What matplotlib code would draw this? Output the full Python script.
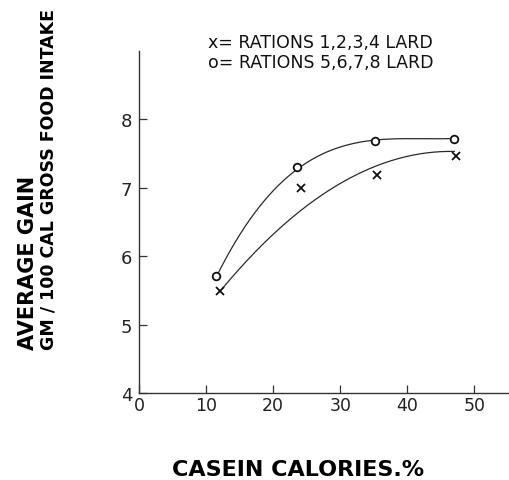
import numpy as np
import matplotlib
matplotlib.use("Agg")
import matplotlib.pyplot as plt

# Observed points
casein_x = [12.0, 24.1, 35.5, 47.2]      # rations 1-4 lard
gain_x = [5.49, 6.99, 7.18, 7.47]
casein_o = [11.5, 23.5, 35.2, 47.0]      # rations 5-8 lard
gain_o = [5.71, 7.31, 7.69, 7.72]

# Hand-drawn smooth curves
curve_o_x = [11.5, 16.6, 23.5, 29.7, 35.2, 41.0, 47.0]
curve_o_y = [5.71, 6.50, 7.31, 7.58, 7.69, 7.715, 7.725]
curve_x_x = [12.4, 19.0, 24.0, 30.0, 35.2, 41.0, 47.0]
curve_x_y = [5.55, 6.20, 6.62, 7.08, 7.36, 7.47, 7.52]

x_ticks = [0, 10, 20, 30, 40, 50]
y_ticks = [4, 5, 6, 7, 8]


def smooth(xs, ys, deg, n=200):
    c = np.polyfit(xs, ys, deg)
    xx = np.linspace(xs[0], xs[-1], n)
    return xx, np.polyval(c, xx)


fig = plt.figure(figsize=(5.09, 4.81), dpi=100)
ax = fig.add_axes([0.2731, 0.1809, 0.725, 0.711])

col = "#2a2a2a"
cx, cy = smooth(curve_o_x, curve_o_y, 3)
ax.plot(cx, cy, color=col, lw=0.9)
cx, cy = smooth(curve_x_x, curve_x_y, 2)
ax.plot(cx, cy, color=col, lw=0.9)

ax.plot(casein_o, gain_o, linestyle="none", marker="o", ms=5.5, mfc="white",
        mec="#111111", mew=1.3)
ax.plot(casein_x, gain_x, linestyle="none", marker="x", ms=5.5, color="#111111", mew=1.3)

ax.set_xlim(0, 55)
ax.set_ylim(4, 9)
ax.set_xticks(x_ticks)
ax.set_yticks(y_ticks)
ax.spines["top"].set_visible(False)
ax.spines["right"].set_visible(False)
for s in ("left", "bottom"):
    ax.spines[s].set_linewidth(1.0)
    ax.spines[s].set_color("#333333")
ax.tick_params(axis="both", direction="in", length=6, width=0.9, color="#333333")
ax.tick_params(axis="x", labelsize=12.5, pad=2)
ax.tick_params(axis="y", labelsize=13, pad=5)
for lab in ax.get_xticklabels() + ax.get_yticklabels():
    lab.set_family("DejaVu Sans")
    lab.set_color("#222222")

fig.text(208 / 509, 1 - 43 / 481, "x= RATIONS 1,2,3,4 LARD", fontsize=12.5,
         family="DejaVu Sans", va="center", ha="left", color="#111111")
fig.text(208 / 509, 1 - 63 / 481, "o= RATIONS 5,6,7,8 LARD", fontsize=12.5,
         family="DejaVu Sans", va="center", ha="left", color="#111111")

fig.text(28 / 509, 1 - 263 / 481, "AVERAGE GAIN", rotation=90, fontsize=15,
         fontweight="bold", family="DejaVu Sans", ha="center", va="center")
fig.text(49 / 509, 1 - 180 / 481, "GM / 100 CAL GROSS FOOD INTAKE", rotation=90,
         fontsize=12.5, fontweight="bold", family="DejaVu Sans", ha="center", va="center")
fig.text(298 / 509, 1 - 470 / 481, "CASEIN CALORIES.%", fontsize=16,
         fontweight="bold", family="DejaVu Sans", ha="center", va="center")

fig.savefig("out.png", dpi=100)
